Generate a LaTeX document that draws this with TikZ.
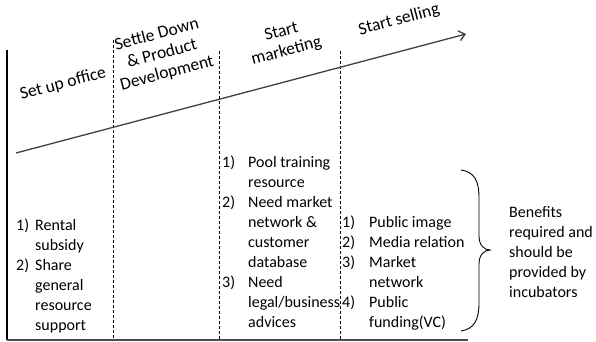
\documentclass[tikz,border=0pt]{standalone}
\usepackage{fontspec}
\setmainfont{Carlito}
\usetikzlibrary{arrows.meta}
\begin{document}
\begin{tikzpicture}[x=1pt,y=-1pt,
  hdr/.style={rotate=14.8, align=center, font=\fontsize{17.5}{20}\selectfont, inner sep=0pt},
  lst/.style={anchor=base west, inner sep=0pt, font=\fontsize{16}{20}\selectfont},
  divider/.style={draw=black, line width=0.8pt, dash pattern=on 3pt off 2pt},
  axisline/.style={draw=black, line width=1.4pt},
  baseline line/.style={draw=black!70, line width=2pt},
  timeline/.style={draw=black!75, line width=1.3pt, -{Straight Barb[length=6pt,width=10pt]}},
  bracestyle/.style={draw=black, line width=0.9pt},
]
\useasboundingbox (0,0) rectangle (596,342);

% frame
\coordinate (lt) at (7,50);
\coordinate (lb) at (7,340);
\coordinate (br) at (468,340);
\draw[axisline] (lt) -- (lb);
\draw[baseline line] (lb) -- (br);

% dividers
\coordinate (d1t) at (113,40);  \coordinate (d1b) at (113,340);
\coordinate (d2t) at (219,51);  \coordinate (d2b) at (219,340);
\coordinate (d3t) at (340,51);  \coordinate (d3b) at (340,340);
\draw[divider] (d1t) -- (d1b);
\draw[divider] (d2t) -- (d2b);
\draw[divider] (d3t) -- (d3b);

% timeline arrow
\coordinate (as) at (16,153);
\coordinate (ae) at (466,34);
\draw[timeline] (as) -- (ae);

% stage headers
\node[hdr] (h1) at (63,84) {Set up office};
\node[hdr] (h2) at (162,54) {Settle Down\\\& Product\\Development};
\node[hdr] (h3) at (284,42) {Start\\marketing};
\node[hdr] (h4) at (399,20) {Start selling};

% lists
\node[lst] (l1) at (16,230) {\begin{tabular}[t]{@{}p{19pt}@{}l@{}}
1) & Rental\\ & subsidy\\ 2) & Share\\ & general\\ & resource\\ & support\end{tabular}};
\node[lst] (l3) at (222,167) {\begin{tabular}[t]{@{}p{26pt}@{}l@{}}
1) & Pool training\\ & resource\\ 2) & Need market\\ & network \&\\ & customer\\ & database\\ 3) & Need\\ & legal/business\\ & advices\end{tabular}};
\node[lst] (l4) at (342,227) {\begin{tabular}[t]{@{}p{27pt}@{}l@{}}
1) & Public image\\ 2) & Media relation\\ 3) & Market\\ & network\\ 4) & Public\\ & funding(VC)\end{tabular}};
\node[lst] (ben) at (509,217) {\begin{tabular}[t]{@{}l@{}}
Benefits\\ required and\\ should be\\ provided by\\ incubators\end{tabular}};

% brace
\coordinate (bt) at (461,170);
\coordinate (btip) at (490,250);
\coordinate (bb) at (461,331);
\draw[bracestyle] (bt) .. controls (474,172) and (479,180) .. (479,198) -- (479,236)
  .. controls (479,245) and (484,250) .. (btip)
  .. controls (484,250) and (479,255) .. (479,264) -- (479,303)
  .. controls (479,320) and (474,329) .. (bb);
\end{tikzpicture}
\end{document}
